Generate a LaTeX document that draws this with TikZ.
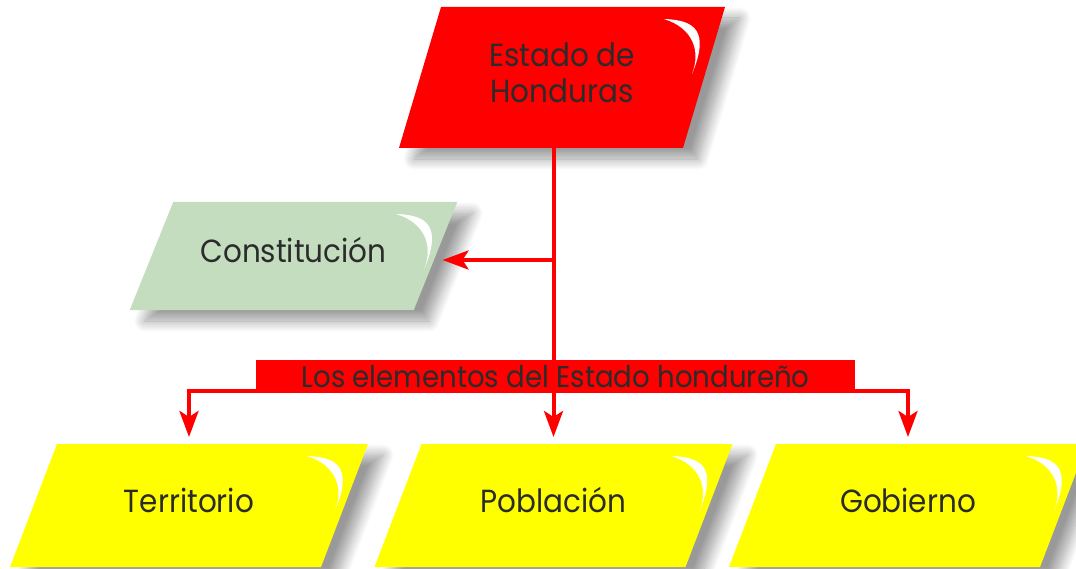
\documentclass[tikz,border=0pt]{standalone}
\usepackage{fontspec}
\setmainfont{Poppins}[FakeStretch=0.92]
\usetikzlibrary{arrows.meta,shadows.blur,calc}
\pgfdeclarelayer{bg}
\pgfsetlayers{bg,main}
\definecolor{txt}{HTML}{2B2B2B}
\definecolor{sage}{HTML}{C5DDBF}
\definecolor{pred}{HTML}{FF0000}
\definecolor{pyel}{HTML}{FFFF00}
\tikzset{
  box/.style={inner sep=0pt, outer sep=0pt, text=txt, font=\fontsize{32}{36}\selectfont, text depth=10pt},
  conn/.style={draw=pred, line width=4pt},
  arr/.style={conn, -{Stealth[length=26pt,width=19pt,inset=6pt]}, shorten >=7pt},
  shad/.style={blur shadow={shadow xshift=15pt, shadow yshift=-11pt, shadow blur radius=11pt, shadow blur steps=14, shadow opacity=40}},
  swoosh/.style={fill=white}
}
\newcommand\parafill[3]{%
  \begin{pgfonlayer}{bg}
    \fill[#3, shad] ([xshift=#2/2]#1.north west) -- ([xshift=#2/2]#1.north east)
       -- ([xshift=-#2/2]#1.south east) -- ([xshift=-#2/2]#1.south west) -- cycle;
    \begin{scope}[shift={([xshift=#2/2]#1.north east)}]
      \fill[swoosh] (-61,12) .. controls (-30,13) and (-15,24) .. (-33,67)
        .. controls (-24,44) and (-32,21) .. (-61,12) -- cycle;
    \end{scope}
  \end{pgfonlayer}
}
\begin{document}
\begin{tikzpicture}[x=1pt,y=-1pt]
  \clip (0,0) rectangle (1076,569);
  \useasboundingbox (0,0) rectangle (1076,569);
  % shapes
  \node[box, minimum width=284pt, minimum height=141pt, align=center] (top) at (562,77.5) {Estado de\\Honduras};
  \parafill{top}{42}{pred}
  \node[box, text height=23pt, minimum width=284pt, minimum height=108pt] (con) at (293.5,256) {Constitución};
  \parafill{con}{43.5}{sage}
  \node[box, text height=23pt, minimum width=311pt, minimum height=123pt] (ter) at (189,505.5) {Territorio};
  \parafill{ter}{47}{pyel}
  \node[box, text height=23pt, minimum width=311pt, minimum height=123pt] (pob) at (553.5,505.5) {Población};
  \parafill{pob}{47}{pyel}
  \node[box, text height=23pt, minimum width=311pt, minimum height=123pt] (gob) at (908,505.5) {Gobierno};
  \parafill{gob}{47}{pyel}
  % connectors
  \coordinate (jc) at (553.5,260);
  \coordinate (hb) at (553.5,391);
  \draw[arr] (top.south -| pob.north) -- (pob.north);
  \draw[arr] (jc) -- (jc -| con.east);
  \draw[arr] (hb) -| (ter.north);
  \draw[arr] (hb) -| (gob.north);
  % label bar
  \node[fill=pred, inner sep=0pt, minimum width=599pt, minimum height=33pt, text=txt,
        font=\fontsize{30}{31}\selectfont] (bar) at (555.5,376.5) {Los elementos del Estado hondureño};
\end{tikzpicture}
\end{document}
